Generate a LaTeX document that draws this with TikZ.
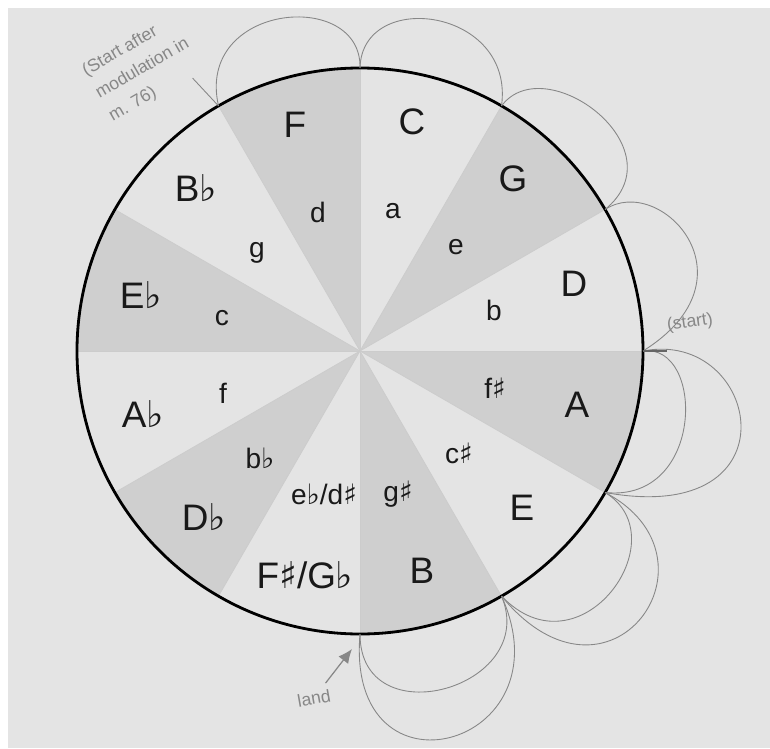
\documentclass[tikz,border=0pt]{standalone}
\usepackage{fontspec}
\setmainfont{Liberation Sans}
\newfontfamily\accfont{DejaVu Sans}
\usepackage{xcolor}
\usepackage{tikz}
\usetikzlibrary{arrows.meta}

\definecolor{paper}{RGB}{228,228,228}
\definecolor{wedge}{RGB}{207,207,207}
\definecolor{pencil}{RGB}{135,135,135}

\newcommand{\flt}{{\accfont ♭}}
\newcommand{\shp}{{\accfont ♯}}

\tikzset{
  keylab/.style={font=\fontsize{21}{24}\selectfont, text=black!90},
  minlab/.style={font=\fontsize{16}{19}\selectfont, text=black!90},
  pencil/.style={draw=pencil, line width=0.5pt},
  note/.style={text=pencil, font=\fontsize{10}{15}\selectfont},
}

\begin{document}
\begin{tikzpicture}[x=0.02cm, y=0.02cm]
  % paper
  \useasboundingbox (0,0) rectangle (770,748);
  \fill[white] (0,0) rectangle (770,748);
  \fill[paper] (8,0) rectangle (770,740);

  % wheel
  \coordinate (O) at (360,397);
  \foreach \a in {30,90,...,330}
    \fill[wedge] (O) -- ++(\a:283) arc (\a:\a+30:283) -- cycle;
  \foreach \a in {0,30,...,330}
    \draw[black!20, line width=0.4pt] (O) -- ++(\a:283);
  \draw[line width=1.6pt] (O) circle (283);

  % points on the rim
  \foreach \a in {120,90,60,30,0,330,300,270}
    \coordinate (s\a) at ([shift={(O)}]\a:283);

  % major keys
  \foreach \n/\x/\y/\t in {kF/295/623/F, kC/412/626/C, kG/513/569/G,
      kD/574/464/D, kA/577/343/A, kE/522/240/E, kB/422/177/B,
      kFs/305/173/{F\shp/G\flt}, kDb/204/231/{D\flt}, kAb/143/334/{A\flt},
      kEb/141/453/{E\flt}, kBb/196/560/{B\flt}}
    \node[keylab] (\n) at (\x,\y) {\t};

  % minor keys
  \foreach \n/\x/\y/\t in {md/318/536/d, ma/393/537/a, me/456/501/e,
      mb/494/438/b, mfs/495/360/{f\shp}, mcs/459/295/{c\shp},
      mgs/398/254/{g\shp}, mebs/324/254/{e\flt/d\shp}, mbb/260/290/{b\flt},
      mf/223/355/f, mc/222/430/c, mg/257/495/g}
    \node[minlab] (\n) at (\x,\y) {\t};

  % pencil loops
  \draw[pencil] (s120) .. controls (195,745) and (362,760) .. (s90);
  \draw[pencil] (s90) .. controls (362,760) and (515,740) .. (s60);
  \draw[pencil] (s60) .. controls (545,700) and (680,600) .. (s30);
  \draw[pencil] (s30) .. controls (660,575) and (760,470) .. (s0);
  \draw[pencil] (s0) .. controls (705,405) and (705,245) .. (s330);
  \draw[pencil] (s0) .. controls (760,420) and (800,220) .. (s330);
  \draw[pencil] (s330) .. controls (680,210) and (580,70) .. (s300);
  \draw[pencil] (s330) .. controls (730,190) and (610,20) .. (s300);
  \draw[pencil] (s300) .. controls (540,60) and (360,10) .. (s270);
  \draw[pencil] (s300) .. controls (570,0) and (345,-60) .. (s270);

  % notes
  \draw[black!60, line width=0.7pt] (s0) -- ++(24,0) coordinate (startTick);
  \draw[pencil] (s120) -- ++(133:38) coordinate (modTick);
  \node[note, rotate=8] (startNote) at (690,425) {(start)};
  \node[note, rotate=30, anchor=west, align=left] (modNote) at (92,650)
    {(Start after\\modulation in\\m. 76)};
  \node[note, rotate=10] (landNote) at (314,50) {land};
  \coordinate (landTip) at (352,99);
  \draw[pencil, line width=0.7pt, -{Latex[length=8pt,width=7pt]}] (landNote) -- (landTip);
\end{tikzpicture}
\end{document}
